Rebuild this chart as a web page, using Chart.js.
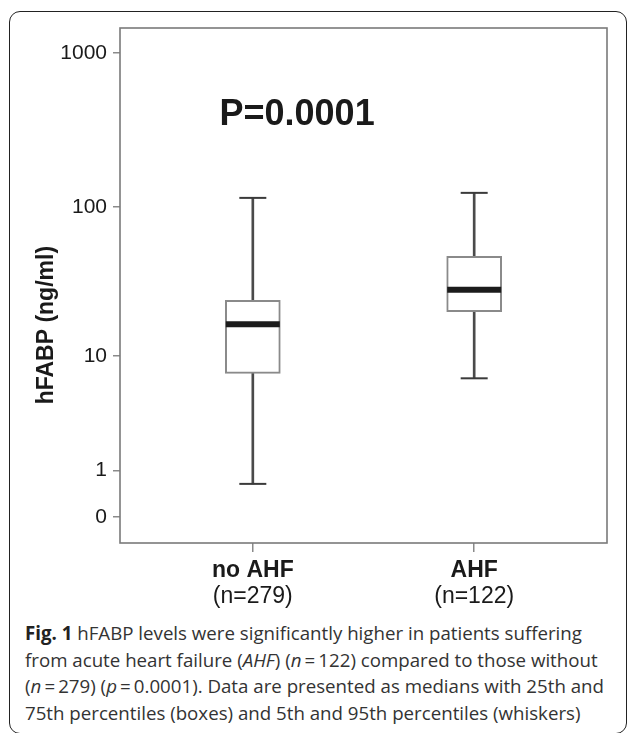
<!DOCTYPE html>
<html>
<head>
<meta charset="utf-8">
<script src="https://cdn.jsdelivr.net/npm/chart.js@4.4.1/dist/chart.umd.min.js"></script>
<style>
  html, body { margin: 0; padding: 0; background: #fff; }
  body { width: 627px; height: 733px; position: relative; overflow: hidden; }
  #frame {
    position: absolute; left: 9px; top: 11px; width: 618px; height: 723px;
    border: 1.5px solid #222; border-radius: 11px; box-sizing: border-box;
  }
  #chartDiv { position: absolute; left: 0; top: 0; width: 627px; height: 620px; }
  #caption {
    position: absolute; left: 25px; top: 620px; width: 600px;
    font-family: "Open Sans", sans-serif; font-size: 18.7px; line-height: 26.5px;
    color: #333; white-space: nowrap;
  }
  #caption b { color: #222; }
</style>
</head>
<body>
<div id="frame"></div>
<div id="chartDiv"><canvas id="chartBox"></canvas></div>
<div id="caption"><b>Fig. 1</b> hFABP levels were significantly higher in patients suffering<br>from acute heart failure (<i>AHF</i>) (<i>n</i>&thinsp;=&thinsp;122) compared to those without<br>(<i>n</i>&thinsp;=&thinsp;279) (<i>p</i>&thinsp;=&thinsp;0.0001). Data are presented as medians with 25th and<br>75th percentiles (boxes) and 5th and 95th percentiles (whiskers)</div>
<script>
const categories = ["no AHF", "AHF"];
const groupSizes = [279, 122];
const p5 = [0.64, 6.9];
const p25 = [7.5, 20.3];
const medians = [16.7, 28.5];
const p75 = [24.2, 47.5];
const p95 = [115, 124];
const yTickValues = [0, 1, 10, 100, 1000];
const pLabel = "P=0.0001";

// axis is log10(value + 1), so 0 can sit on it
const tr = (v) => Math.log10(v + 1);

const chartElement = document.querySelector("#chartBox");
const fontName = "'Liberation Sans', Arial, Helvetica, sans-serif";

const whiskerData = categories.map((c, i) => ({ x: i, y: [tr(p5[i]), tr(p95[i])] }));
const boxData = categories.map((c, i) => ({ x: i, y: [tr(p25[i]), tr(p75[i])] }));
const medianData = categories.map((c, i) => ({ x: i, y: tr(medians[i]) }));
const capData = [];
categories.forEach((c, i) => {
  capData.push({ x: i, y: tr(p5[i]) });
  capData.push({ x: i, y: tr(p95[i]) });
});

const noPadding = (scale) => {
  scale.paddingTop = 0;
  scale.paddingBottom = 0;
  scale.paddingLeft = 0;
  scale.paddingRight = 0;
};

const extrasPlugin = {
  id: "extras",
  afterDraw: (chart) => {
    const { ctx, chartArea, scales } = chart;
    ctx.save();
    // plot frame
    ctx.strokeStyle = "#7a7a7a";
    ctx.lineWidth = 1.6;
    ctx.strokeRect(chartArea.left, chartArea.top, chartArea.right - chartArea.left, chartArea.bottom - chartArea.top);

    // group sizes under the category names
    ctx.fillStyle = "#1a1a1a";
    ctx.font = "23px " + fontName;
    ctx.textAlign = "center";
    ctx.textBaseline = "alphabetic";
    groupSizes.forEach((n, i) => {
      ctx.fillText(`(n=${n})`, scales.x.getPixelForValue(i), chartArea.bottom + 60);
    });

    // p value annotation
    ctx.font = "bold 36px " + fontName;
    ctx.textBaseline = "middle";
    ctx.fillText(pLabel, scales.x.getPixelForValue(0.2), scales.y.getPixelForValue(2.6));

    // y axis title
    ctx.translate(47, chartArea.top + (chartArea.bottom - chartArea.top) * 0.577);
    ctx.rotate(-Math.PI / 2);
    ctx.font = "bold 23px " + fontName;
    ctx.fillText("hFABP (ng/ml)", 0, 0);
    ctx.restore();
  },
};

new Chart(chartElement, {
  type: "bar",
  data: {
    datasets: [
      {
        type: "bar",
        label: "whiskers",
        data: whiskerData,
        backgroundColor: "#4a4a4a",
        barThickness: 2,
        grouped: false,
        order: 3,
      },
      {
        type: "bar",
        label: "boxes",
        data: boxData,
        backgroundColor: "#ffffff",
        borderColor: "#8a8a8a",
        borderWidth: 2,
        borderSkipped: false,
        barThickness: 55,
        grouped: false,
        order: 2,
      },
      {
        type: "scatter",
        label: "medians",
        data: medianData,
        pointStyle: "line",
        pointRadius: 27,
        borderColor: "#1c1c1c",
        borderWidth: 6,
        order: 1,
      },
      {
        type: "scatter",
        label: "caps",
        data: capData,
        pointStyle: "line",
        pointRadius: 13.5,
        borderColor: "#3a3a3a",
        borderWidth: 2,
        order: 1,
      },
    ],
  },
  options: {
    responsive: true,
    maintainAspectRatio: false,
    animation: false,
    layout: { autoPadding: false, padding: { top: 28, right: 20, left: 0, bottom: 0 } },
    plugins: {
      legend: { display: false },
      tooltip: { enabled: false },
    },
    scales: {
      x: {
        type: "linear",
        min: -0.6,
        max: 1.6,
        offset: false,
        border: { display: false },
        grid: { display: true, offset: false, drawOnChartArea: false, drawTicks: true, tickLength: 9, color: "#8a8a8a", lineWidth: 1.5 },
        afterBuildTicks: (scale) => {
          scale.ticks = categories.map((c, i) => ({ value: i }));
        },
        afterFit: (scale) => {
          scale.height = 77;
          noPadding(scale);
        },
        ticks: {
          autoSkip: false,
          maxRotation: 0,
          padding: 5,
          color: "#1a1a1a",
          font: { family: fontName, size: 23, weight: "bold" },
          callback: (value) => categories[value],
        },
      },
      y: {
        type: "linear",
        min: tr(-0.32),
        max: tr(1455),
        border: { display: false },
        grid: { display: true, drawOnChartArea: false, drawTicks: true, tickLength: 7, color: "#8a8a8a", lineWidth: 1.5 },
        afterBuildTicks: (scale) => {
          scale.ticks = yTickValues.map((v) => ({ value: tr(v) }));
        },
        afterFit: (scale) => {
          scale.width = 120;
          noPadding(scale);
        },
        ticks: {
          padding: 6,
          color: "#1a1a1a",
          font: { family: fontName, size: 21 },
          callback: (value, index) => String(yTickValues[index]),
        },
      },
    },
  },
  plugins: [extrasPlugin],
});
</script>
</body>
</html>
